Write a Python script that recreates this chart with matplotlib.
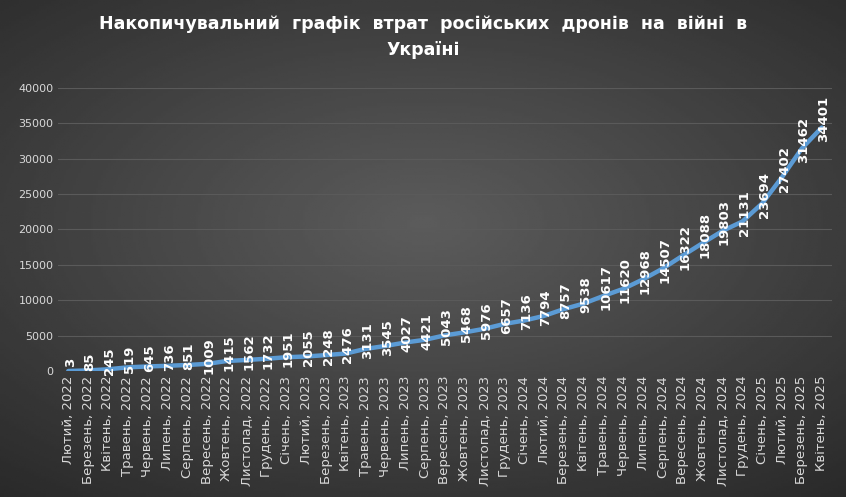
import matplotlib
matplotlib.use("Agg")
import matplotlib.pyplot as plt
import numpy as np

months = ["Лютий", "Березень", "Квітень", "Травень", "Червень", "Липень", "Серпень",
          "Вересень", "Жовтень", "Листопад", "Грудень", "Січень"]
categories = []
m, y = 0, 2022
for _ in range(39):
    categories.append(f"{months[m]}, {y}")
    m += 1
    if m == 11:
        y += 1
    if m == 12:
        m = 0
values = [3, 85, 245, 519, 645, 736, 851, 1009, 1415, 1562, 1732, 1951, 2055, 2248, 2476,
          3131, 3545, 4027, 4421, 5043, 5468, 5976, 6657, 7136, 7794, 8757, 9538, 10617,
          11620, 12968, 14507, 16322, 18088, 19803, 21131, 23694, 27402, 31462, 34401]
yticks = [0, 5000, 10000, 15000, 20000, 25000, 30000, 35000, 40000]
title = "Накопичувальний  графік  втрат  російських  дронів  на  війні  в\nУкраїні"

fig = plt.figure(figsize=(8.46, 4.97), dpi=100)
bg = fig.add_axes([0, 0, 1, 1])
yy, xx = np.mgrid[0:1:200j, 0:1:340j]
r = np.sqrt(((xx - 0.5) * 1.0) ** 2 + ((yy - 0.45) * 1.1) ** 2)
bg.imshow(0.36 - 0.25 * r, cmap="gray", vmin=0, vmax=1, aspect="auto", extent=[0, 1, 0, 1])
bg.axis("off")

ax = fig.add_axes([0.069, 0.2535, 0.914, 0.5695])
ax.patch.set_alpha(0)
x = np.arange(len(values))
ax.plot(x, values, color="#5b9bd5", lw=3.2, solid_capstyle="round")
for i, v in enumerate(values):
    ax.text(i + 0.1, v + 1200, str(v), rotation=90, ha="center", va="center",
            color="white", fontsize=9.5, fontweight="bold")
ax.set_xlim(-0.5, len(values) - 0.5)
ax.set_ylim(0, 40000)
ax.set_yticks(yticks)
ax.set_yticklabels([str(t) for t in yticks], color="#d9d9d9", fontsize=8)
ax.set_xticks(x)
ax.set_xticklabels(categories, rotation=90, color="#d9d9d9", fontsize=9.5)
ax.tick_params(length=0)
ax.grid(axis="y", color="#5a5a5a", lw=0.8)
for s in ax.spines.values():
    s.set_visible(False)
fig.text(0.5, 0.97, title, ha="center", va="top", color="white",
         fontsize=12.5, fontweight="bold", linespacing=1.6)
fig.savefig("out.png", dpi=100)
